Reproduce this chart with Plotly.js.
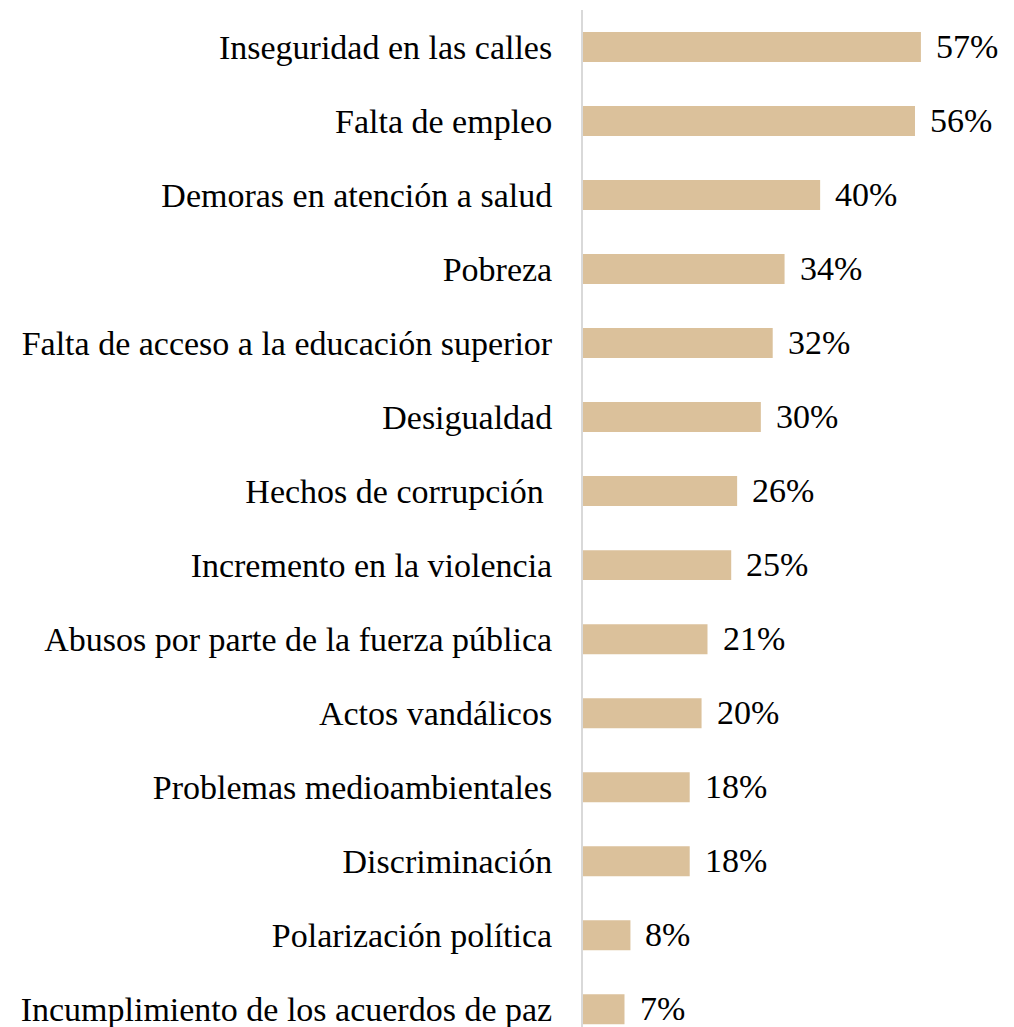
<!DOCTYPE html>
<html>
<head>
<meta charset="utf-8">
<script src="https://cdn.plot.ly/plotly-3.0.1.min.js"></script>
<style>html,body{margin:0;padding:0;background:#fff;}#chart{width:1014px;height:1027px;}</style>
</head>
<body>
<div id="chart"></div>
<script>
const categories = [
  "Inseguridad en las calles",
  "Falta de empleo",
  "Demoras en atención a salud",
  "Pobreza",
  "Falta de acceso a la educación superior",
  "Desigualdad",
  "Hechos de corrupción ",
  "Incremento en la violencia",
  "Abusos por parte de la fuerza pública",
  "Actos vandálicos",
  "Problemas medioambientales",
  "Discriminación",
  "Polarización política",
  "Incumplimiento de los acuerdos de paz"
];
const values = [57, 56, 40, 34, 32, 30, 26, 25, 21, 20, 18, 18, 8, 7];
const valueLabels = values.map(v => v + "%");

const FONT = "Liberation Serif, Times New Roman, serif";

const trace = {
  type: "bar",
  orientation: "h",
  x: values,
  y: categories,
  marker: {color: "#DBC19B"},
  hoverinfo: "none"
};

const annotations = categories.map((c, i) => ({
  x: values[i], y: c, xref: "x", yref: "y",
  text: valueLabels[i], showarrow: false,
  xanchor: "left", yanchor: "middle", xshift: 14, yshift: 1,
  borderpad: 0,
  font: {family: FONT, size: 34, color: "#000"}
}));

const layout = {
  width: 1014, height: 1027,
  margin: {l: 583, r: 0, t: 10, b: 0, pad: 0},
  paper_bgcolor: "#fff", plot_bgcolor: "#fff",
  showlegend: false,
  bargap: 0.595,
  xaxis: {
    range: [0, 72.7], showgrid: false, zeroline: false,
    showticklabels: false, showline: false, ticks: ""
  },
  yaxis: {
    type: "category",
    range: [13.24, -0.5],
    showgrid: false, zeroline: false,
    showline: true, linecolor: "#D9D9D9", linewidth: 2,
    ticks: "", ticklabelstandoff: 22,
    tickfont: {family: FONT, size: 34, color: "#000"}
  },
  annotations: annotations
};

Plotly.newPlot("chart", [trace], layout, {displayModeBar: false, staticPlot: true});
</script>
</body>
</html>
